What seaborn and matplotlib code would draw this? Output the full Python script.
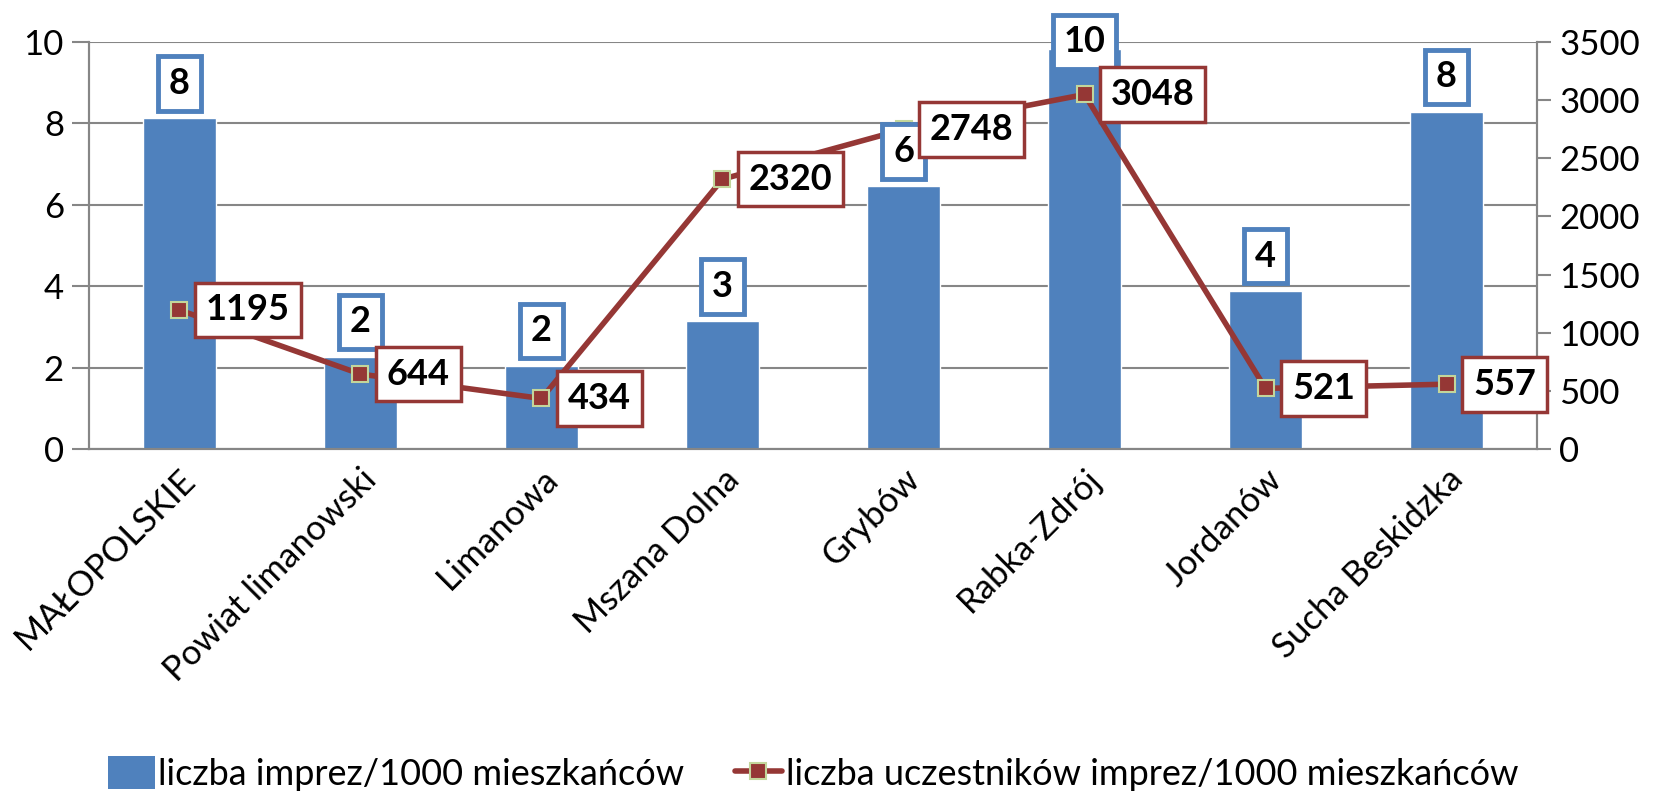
"""
Events and participants per 1000 inhabitants - Limanowa county comparison
"""

import numpy as np
import matplotlib
matplotlib.use("Agg")
import matplotlib.pyplot as plt
import seaborn as sns
from matplotlib.lines import Line2D
from matplotlib.patches import Patch

sns.set_style("white")
plt.rcParams['font.family'] = ['Lato', 'DejaVu Sans']
plt.rcParams['text.color'] = 'black'
plt.rcParams['xtick.color'] = 'black'
plt.rcParams['ytick.color'] = 'black'

# Data
categories = ['MAŁOPOLSKIE', 'Powiat limanowski', 'Limanowa', 'Mszana Dolna',
              'Grybów', 'Rabka-Zdrój', 'Jordanów', 'Sucha Beskidzka']
events_per_1000 = [8.13, 2.27, 2.05, 3.14, 6.46, 9.83, 3.89, 8.29]
participants_per_1000 = [1195, 644, 434, 2320, 2748, 3048, 521, 557]

BAR_NAME = 'liczba imprez/1000 mieszkańców'
LINE_NAME = 'liczba uczestników imprez/1000 mieszkańców'

BAR_COLOR = '#4F81BD'
LINE_COLOR = '#953735'
MARKER_EDGE = '#C3D69B'
GRID_COLOR = '#868686'

positions = np.arange(len(categories))

fig = plt.figure(figsize=(16.59, 7.91), dpi=100)
ax = fig.add_axes([0.0536, 0.4324, 0.8729, 0.5146])

sns.barplot(x=positions, y=events_per_1000, native_scale=True, width=0.4,
            color=BAR_COLOR, saturation=1, ax=ax, zorder=2)

ax2 = ax.twinx()
sns.lineplot(x=positions, y=participants_per_1000, color=LINE_COLOR, linewidth=4,
             marker='s', markersize=12, markerfacecolor=LINE_COLOR,
             markeredgecolor=MARKER_EDGE, markeredgewidth=1.5, ax=ax2)

# axes ranges / ticks
ax.set_xlim(-0.5, len(categories) - 0.5)
ax.set_ylim(0, 10)
ax.set_yticks(np.arange(0, 11, 2))
ax2.set_ylim(0, 3500)
ax2.set_yticks(np.arange(0, 3501, 500))
ax.set_xticks(positions)
ax.set_xticklabels(categories, rotation=45, ha='right', rotation_mode='anchor')
ax.set_xticks(np.arange(-0.5, len(categories), 2), minor=True)
ax.set_xlabel('')
ax.set_ylabel('')
ax2.set_ylabel('')

ax.grid(axis='y', color=GRID_COLOR, linewidth=1.5, zorder=0)
ax.set_axisbelow(True)
ax.tick_params(axis='x', which='major', length=0, pad=10, labelsize=25)
ax.tick_params(axis='x', which='minor', length=12, width=1.5, color=GRID_COLOR)
ax.tick_params(axis='y', length=12, width=1.5, color=GRID_COLOR, labelcolor='black',
               labelsize=25, pad=6)
ax2.tick_params(axis='y', length=10, width=1.5, color=GRID_COLOR, labelcolor='black',
                labelsize=25, pad=6)

for a in (ax, ax2):
    for side in ['left', 'right', 'bottom']:
        a.spines[side].set_color(GRID_COLOR)
        a.spines[side].set_linewidth(1.5)
    a.spines['top'].set_visible(False)

# bar labels (drawn on ax2 so they sit above the line)
for i, v in zip(positions, events_per_1000):
    y_lab = min(v + 0.85, 10.0)
    ax2.annotate(f"{round(v)}", xy=(i, y_lab), xycoords=ax.transData,
                 ha='center', va='center', fontsize=26, fontweight='bold', color='black',
                 bbox=dict(boxstyle='square,pad=0.3', fc='white', ec=BAR_COLOR, lw=3.5),
                 zorder=5, annotation_clip=False)

# line labels
for i, v in zip(positions, participants_per_1000):
    ax2.annotate(f"{v}", xy=(i, v), xytext=(19, 0), textcoords='offset points',
                 ha='left', va='center', fontsize=26, fontweight='bold', color='black',
                 bbox=dict(boxstyle='square,pad=0.3', fc='white', ec=LINE_COLOR, lw=2.5),
                 zorder=6, annotation_clip=False)

handles = [Patch(facecolor=BAR_COLOR, edgecolor='none'),
           Line2D([0], [0], color=LINE_COLOR, linewidth=4, marker='s', markersize=12,
                  markerfacecolor=LINE_COLOR, markeredgecolor=MARKER_EDGE, markeredgewidth=1.5)]
fig.legend(handles, [BAR_NAME, LINE_NAME], loc='center', bbox_to_anchor=(0.49, 0.022),
           ncol=2, frameon=False, fontsize=26, handlelength=1.3, handleheight=1.0,
           handletextpad=0.1, columnspacing=1.4)

fig.savefig('out.png', dpi=100, facecolor='white')
